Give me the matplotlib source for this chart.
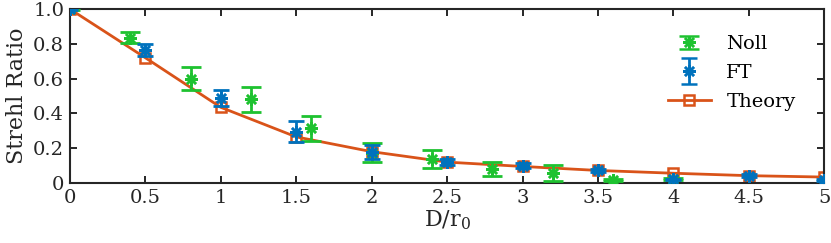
import matplotlib
matplotlib.use('Agg')
import matplotlib.pyplot as plt
from matplotlib.legend_handler import HandlerErrorbar

# Theory curve
x_theory = [0, 0.5, 1, 1.5, 2, 2.5, 3, 3.5, 4, 4.5, 5]
sr_theory = [1.0, 0.72, 0.435, 0.265, 0.18, 0.12, 0.095, 0.072, 0.056, 0.042, 0.034]

# FT simulation
x_ft = [0, 0.5, 1, 1.5, 2, 2.5, 3, 3.5, 4, 4.5, 5]
sr_ft = [1.0, 0.764, 0.49, 0.295, 0.18, 0.12, 0.10, 0.072, 0.02, 0.042, 0.015]
err_ft = [0.005, 0.037, 0.045, 0.06, 0.04, 0.015, 0.015, 0.008, 0.005, 0.008, 0.005]

# Noll simulation
x_noll = [0, 0.4, 0.8, 1.2, 1.6, 2.0, 2.4, 2.8, 3.2, 3.6, 4.0]
sr_noll = [1.0, 0.835, 0.598, 0.48, 0.314, 0.174, 0.136, 0.079, 0.056, 0.017, 0.021]
err_noll = [0.005, 0.03, 0.066, 0.07, 0.072, 0.056, 0.052, 0.04, 0.047, 0.004, 0.006]

c_noll = '#1EC230'
c_ft = '#0072BD'
c_th = '#D95319'

plt.rcParams['font.family'] = ['DejaVu Serif']
plt.rcParams['mathtext.fontset'] = 'dejavuserif'

fig = plt.figure(figsize=(8.31, 2.43), dpi=100)
ax = fig.add_axes([0.084, 0.247, 0.908, 0.716])

star = (8, 2, 0)
ax.errorbar(x_noll, sr_noll, yerr=err_noll, fmt='none', ecolor=c_noll,
            elinewidth=2, capsize=7, capthick=2, zorder=3)
ax.plot(x_noll, sr_noll, ls='none', marker=star, color=c_noll, ms=9, mew=1.8, zorder=3)
ax.errorbar(x_ft, sr_ft, yerr=err_ft, fmt='none', ecolor=c_ft,
            elinewidth=2, capsize=5.5, capthick=2, zorder=4)
ax.plot(x_ft, sr_ft, ls='none', marker=star, color=c_ft, ms=9, mew=1.8, zorder=4)
h_th, = ax.plot(x_theory, sr_theory, '-s', color=c_th, lw=2, ms=7,
                mfc='none', mew=1.8, zorder=2)

# legend handles (dummy points outside the view)
ln = ax.errorbar([-9], [-9], yerr=[0.1], marker=star, ls='none', color=c_noll, ms=9,
                 mew=1.8, ecolor=c_noll, elinewidth=2, capsize=7, capthick=2)
lf = ax.errorbar([-9], [-9], yerr=[0.1], marker=star, ls='none', color=c_ft, ms=9,
                 mew=1.8, ecolor=c_ft, elinewidth=2, capsize=5.5, capthick=2)

ax.set_xlim(0, 5)
ax.set_ylim(0, 1)
ax.set_xticks([0, 0.5, 1, 1.5, 2, 2.5, 3, 3.5, 4, 4.5, 5])
ax.set_xticklabels(['0', '0.5', '1', '1.5', '2', '2.5', '3', '3.5', '4', '4.5', '5'])
ax.set_yticks([0, 0.2, 0.4, 0.6, 0.8, 1.0])
ax.set_yticklabels(['0', '0.2', '0.4', '0.6', '0.8', '1.0'])
ax.tick_params(direction='in', top=True, right=True, length=5, width=1.4,
               labelsize=14, colors='#262626', pad=4)
for s in ax.spines.values():
    s.set_linewidth(1.5)
    s.set_color('#262626')

ax.set_xlabel('D/r$_0$', fontsize=16, color='#262626', labelpad=1)
ax.set_ylabel('Strehl Ratio', fontsize=16, color='#262626', labelpad=4)

ax.legend([ln, lf, h_th], ['Noll', 'FT', 'Theory'], loc='upper right',
          bbox_to_anchor=(0.985, 0.95), frameon=False,
          fontsize=14, handlelength=2.2, labelspacing=0.55,
          handler_map={ln: HandlerErrorbar(yerr_size=0.33),
                       lf: HandlerErrorbar(yerr_size=0.65)})

fig.savefig('out.png', dpi=100)
